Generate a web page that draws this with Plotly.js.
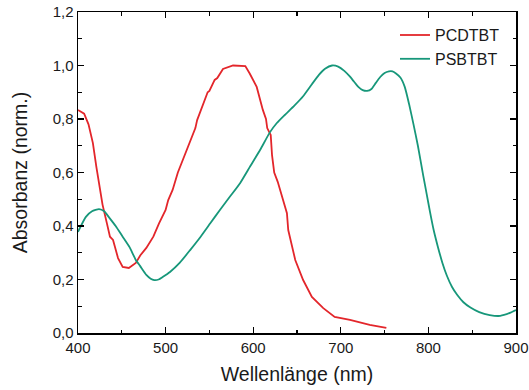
<!DOCTYPE html>
<html>
<head>
<meta charset="utf-8">
<script src="https://cdn.plot.ly/plotly-3.0.1.min.js"></script>
<style>html,body{margin:0;padding:0;background:#fff}#chart{width:529px;height:390px}</style>
</head>
<body>
<div id="chart"></div>
<script>
// PCDTBT (red)
const pcdtbtX = [400,407,412,417,421,424,426,428,433,436.5,440,445.7,451,458,466,471,478,486,492.5,500,503,508,514,522,528,534,536,543,548,550,556,559,565.5,577,591,596,604,611,614.6,616,620,621.5,624,628,630.5,638.5,640,648,657,667,680,693,710.5,733,752];
const pcdtbtY = [0.834,0.82,0.78,0.71,0.62,0.56,0.535,0.48,0.41,0.36,0.348,0.28,0.247,0.243,0.262,0.29,0.318,0.36,0.41,0.46,0.497,0.535,0.6,0.665,0.72,0.766,0.796,0.86,0.9,0.905,0.946,0.953,0.987,1.0,0.998,0.97,0.92,0.834,0.8,0.766,0.74,0.665,0.6,0.565,0.535,0.448,0.385,0.273,0.198,0.135,0.093,0.06,0.049,0.03,0.019];
// PSBTBT (green)
const psbtbtX = [400,409,416,424,430,435,443,451,459,466,471,478,483,487,492,497,505,516,528,540,551,562,573.5,585,596,608,619,627,636,647,657,667,675,682,690,697,704,710,715,720,725,730,735,740,745,750,755,759,763,768,773,778,783,788,794,798,802,806,811,816,821,827,833,840,848,858,870,882,893,900];
const psbtbtY = [0.378,0.434,0.455,0.463,0.455,0.434,0.4,0.36,0.32,0.273,0.25,0.217,0.203,0.198,0.2,0.21,0.228,0.262,0.31,0.36,0.41,0.46,0.51,0.56,0.62,0.685,0.75,0.785,0.815,0.85,0.885,0.93,0.965,0.988,1.0,0.996,0.98,0.96,0.94,0.92,0.908,0.905,0.912,0.935,0.957,0.972,0.978,0.978,0.97,0.955,0.92,0.855,0.78,0.7,0.59,0.52,0.45,0.385,0.32,0.262,0.215,0.172,0.142,0.115,0.095,0.078,0.067,0.064,0.075,0.086];
const seriesNames = ['PCDTBT','PSBTBT'];
const xTitle = 'Wellenlänge (nm)';
const yTitle = 'Absorbanz (norm.)';

const font = {family:'"Liberation Sans", Arial, sans-serif', color:'#1a1a1a'};
const traces = [
  {x:pcdtbtX, y:pcdtbtY, name:seriesNames[0], mode:'lines', line:{color:'#e3262b', width:1.8, shape:'linear'}},
  {x:psbtbtX, y:psbtbtY, name:seriesNames[1], mode:'lines', line:{color:'#17977a', width:1.8, shape:'spline', smoothing:0.5}}
];
const axisCommon = {showline:true, linecolor:'#000', linewidth:1.5, mirror:'allticks', ticks:'inside', ticklen:6, tickwidth:1.2, tickcolor:'#000', showgrid:false, zeroline:false, tickfont:{...font, size:15}};
const layout = {
  width:529, height:390,
  margin:{l:78, r:13, t:12, b:57},
  paper_bgcolor:'#fff', plot_bgcolor:'#fff',
  separators:', ',
  font:font,
  showlegend:true,
  legend:{x:0.7237, y:0.981, xanchor:'left', yanchor:'top', bgcolor:'rgba(0,0,0,0)', font:{...font, size:16}, tracegroupgap:0},
  xaxis:{...axisCommon, range:[400,900], dtick:100, tick0:400, title:{text:xTitle, font:{...font, size:19.5}, standoff:13},
    minor:{ticks:'inside', ticklen:3.5, tickwidth:1.2, tickcolor:'#000', dtick:50, showgrid:false}},
  yaxis:{...axisCommon, range:[0,1.2], dtick:0.2, tick0:0, tickformat:'.1f', title:{text:yTitle, font:{...font, size:19.5}, standoff:20},
    minor:{ticks:'inside', ticklen:3.5, tickwidth:1.2, tickcolor:'#000', dtick:0.1, showgrid:false}}
};
Plotly.newPlot('chart', traces, layout, {staticPlot:true, displayModeBar:false});
</script>
</body>
</html>
